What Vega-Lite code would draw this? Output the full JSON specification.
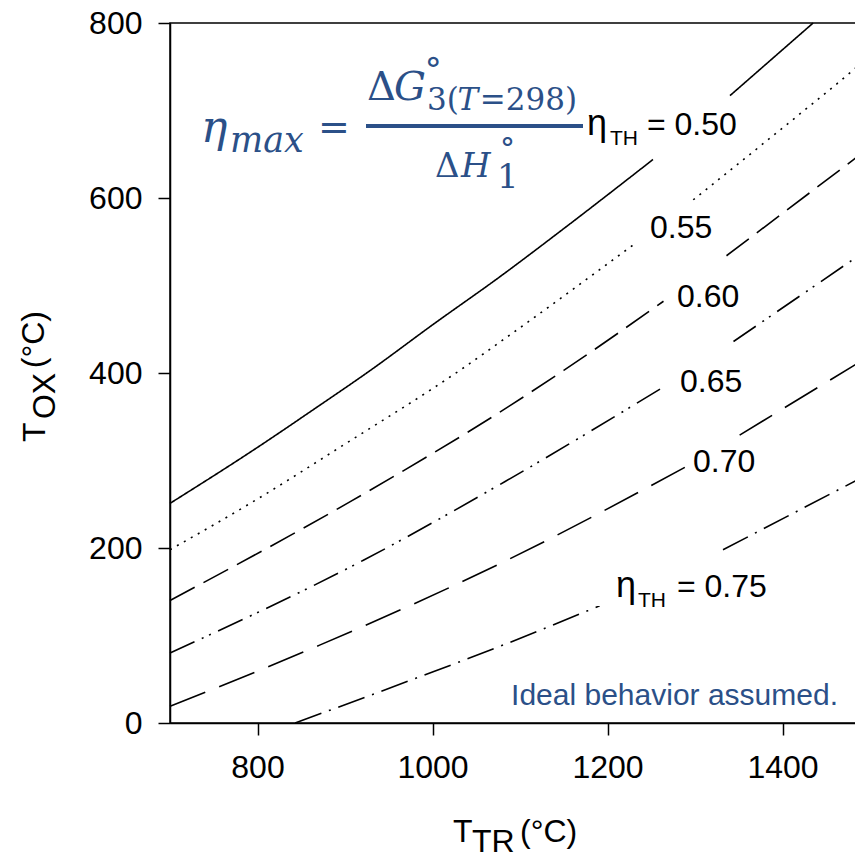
{
  "$schema": "https://vega.github.io/schema/vega-lite/v6.json",
  "width": 686,
  "height": 700,
  "autosize": {"type": "none"},
  "padding": {"left": 170, "top": 23, "right": 0, "bottom": 129},
  "background": "white",
  "config": {
    "view": {"stroke": "black", "strokeWidth": 1.5},
    "font": "Liberation Sans",
    "axis": {"title": null, "grid": false, "tickSize": 12, "labelFontSize": 32, "labelFlush": false, "domainColor": "black", "tickColor": "black", "labelColor": "black", "domainWidth": 1.5, "tickWidth": 1.5, "labelFont": "Liberation Sans", "format": "d"},
    "axisX": {"labelPadding": 17},
    "axisY": {"labelPadding": 16}
  },
  "layer": [
    {
      "data": {
        "values": [
          {"eta": "0.50", "seg": 1, "T_TR": 700, "T_OX": 251},
          {"eta": "0.50", "seg": 1, "T_TR": 800, "T_OX": 315},
          {"eta": "0.50", "seg": 1, "T_TR": 868, "T_OX": 361},
          {"eta": "0.50", "seg": 1, "T_TR": 929, "T_OX": 403},
          {"eta": "0.50", "seg": 1, "T_TR": 1000, "T_OX": 455},
          {"eta": "0.50", "seg": 1, "T_TR": 1077, "T_OX": 510},
          {"eta": "0.50", "seg": 1, "T_TR": 1150, "T_OX": 565},
          {"eta": "0.50", "seg": 1, "T_TR": 1252, "T_OX": 644},
          {"eta": "0.50", "seg": 2, "T_TR": 1340, "T_OX": 717},
          {"eta": "0.50", "seg": 2, "T_TR": 1435, "T_OX": 800},
          {"eta": "0.55", "seg": 1, "T_TR": 700, "T_OX": 198},
          {"eta": "0.55", "seg": 1, "T_TR": 800, "T_OX": 256},
          {"eta": "0.55", "seg": 1, "T_TR": 894, "T_OX": 315},
          {"eta": "0.55", "seg": 1, "T_TR": 1037, "T_OX": 407},
          {"eta": "0.55", "seg": 1, "T_TR": 1085, "T_OX": 441},
          {"eta": "0.55", "seg": 1, "T_TR": 1233, "T_OX": 549},
          {"eta": "0.55", "seg": 2, "T_TR": 1298, "T_OX": 598},
          {"eta": "0.55", "seg": 2, "T_TR": 1400, "T_OX": 680},
          {"eta": "0.55", "seg": 2, "T_TR": 1477, "T_OX": 743},
          {"eta": "0.55", "seg": 2, "T_TR": 1484, "T_OX": 749},
          {"eta": "0.60", "seg": 1, "T_TR": 700, "T_OX": 140},
          {"eta": "0.60", "seg": 1, "T_TR": 906, "T_OX": 253},
          {"eta": "0.60", "seg": 1, "T_TR": 1089, "T_OX": 363},
          {"eta": "0.60", "seg": 1, "T_TR": 1150, "T_OX": 403},
          {"eta": "0.60", "seg": 1, "T_TR": 1264, "T_OX": 482},
          {"eta": "0.60", "seg": 2, "T_TR": 1336, "T_OX": 534},
          {"eta": "0.60", "seg": 2, "T_TR": 1484, "T_OX": 646},
          {"eta": "0.65", "seg": 1, "T_TR": 700, "T_OX": 80},
          {"eta": "0.65", "seg": 1, "T_TR": 921, "T_OX": 186},
          {"eta": "0.65", "seg": 1, "T_TR": 1083, "T_OX": 276},
          {"eta": "0.65", "seg": 1, "T_TR": 1264, "T_OX": 384},
          {"eta": "0.65", "seg": 2, "T_TR": 1344, "T_OX": 436},
          {"eta": "0.65", "seg": 2, "T_TR": 1484, "T_OX": 532},
          {"eta": "0.70", "seg": 1, "T_TR": 700, "T_OX": 19},
          {"eta": "0.70", "seg": 1, "T_TR": 871, "T_OX": 89},
          {"eta": "0.70", "seg": 1, "T_TR": 1083, "T_OX": 185},
          {"eta": "0.70", "seg": 1, "T_TR": 1290, "T_OX": 293},
          {"eta": "0.70", "seg": 2, "T_TR": 1351, "T_OX": 329},
          {"eta": "0.70", "seg": 2, "T_TR": 1484, "T_OX": 410},
          {"eta": "0.75", "seg": 1, "T_TR": 843, "T_OX": 0},
          {"eta": "0.75", "seg": 1, "T_TR": 986, "T_OX": 53},
          {"eta": "0.75", "seg": 1, "T_TR": 1083, "T_OX": 90},
          {"eta": "0.75", "seg": 1, "T_TR": 1191, "T_OX": 134},
          {"eta": "0.75", "seg": 2, "T_TR": 1332, "T_OX": 198},
          {"eta": "0.75", "seg": 2, "T_TR": 1484, "T_OX": 277}
        ]
      },
      "mark": {"type": "line", "color": "black", "strokeWidth": 1.6, "interpolate": "monotone"},
      "encoding": {
        "x": {
          "field": "T_TR", "type": "quantitative",
          "scale": {"domain": [700, 1484], "nice": false, "zero": false},
          "axis": {"values": [800, 1000, 1200, 1400]}
        },
        "y": {
          "field": "T_OX", "type": "quantitative",
          "scale": {"domain": [0, 800], "nice": false, "zero": false},
          "axis": {"values": [0, 200, 400, 600, 800]}
        },
        "strokeDash": {
          "field": "eta", "type": "nominal", "legend": null,
          "scale": {"domain": ["0.50", "0.55", "0.60", "0.65", "0.70", "0.75"], "range": [[1, 0], [2, 6], [28, 10], [27, 8, 2, 6, 2, 8], [38, 15], [28, 8, 2, 8]]}
        },
        "detail": {"field": "seg", "type": "nominal"}
      }
    },
    {"data": {"values": [{}]}, "mark": {"type": "rule", "color": "#2b5088", "strokeWidth": 4}, "encoding": {"x": {"datum": 924}, "x2": {"datum": 1172}, "y": {"datum": 682.3}}},
    {"data": {"values": [{}]}, "mark": {"type": "text", "text": "η", "font": "DejaVu Serif", "fontStyle": "italic", "fontSize": 44, "color": "#2b5088", "align": "left", "baseline": "alphabetic"}, "encoding": {"x": {"datum": 735.4}, "y": {"datum": 664.0}}},
    {"data": {"values": [{}]}, "mark": {"type": "text", "text": "max", "font": "DejaVu Serif", "fontStyle": "italic", "fontSize": 35, "color": "#2b5088", "align": "left", "baseline": "alphabetic"}, "encoding": {"x": {"datum": 768.6}, "y": {"datum": 652.6}}},
    {"data": {"values": [{}]}, "mark": {"type": "text", "text": "=", "font": "DejaVu Serif", "fontSize": 38, "color": "#2b5088", "align": "left", "baseline": "alphabetic"}, "encoding": {"x": {"datum": 869.1}, "y": {"datum": 666.3}}},
    {"data": {"values": [{}]}, "mark": {"type": "text", "text": "Δ", "font": "DejaVu Serif", "fontSize": 40, "color": "#2b5088", "align": "left", "baseline": "alphabetic"}, "encoding": {"x": {"datum": 925.1}, "y": {"datum": 712.0}}},
    {"data": {"values": [{}]}, "mark": {"type": "text", "text": "G", "font": "DejaVu Serif", "fontStyle": "italic", "fontSize": 40, "color": "#2b5088", "align": "left", "baseline": "alphabetic"}, "encoding": {"x": {"datum": 956.0}, "y": {"datum": 712.0}}},
    {"data": {"values": [{}]}, "mark": {"type": "text", "text": "°", "font": "DejaVu Serif", "fontSize": 34, "color": "#2b5088", "align": "left", "baseline": "alphabetic"}, "encoding": {"x": {"datum": 991.0}, "y": {"datum": 732.6}}},
    {"data": {"values": [{}]}, "mark": {"type": "text", "text": "3(", "font": "DejaVu Serif", "fontSize": 31, "color": "#2b5088", "align": "left", "baseline": "alphabetic"}, "encoding": {"x": {"datum": 993.7}, "y": {"datum": 700.6}}},
    {"data": {"values": [{}]}, "mark": {"type": "text", "text": "T", "font": "DejaVu Serif", "fontStyle": "italic", "fontSize": 31, "color": "#2b5088", "align": "left", "baseline": "alphabetic"}, "encoding": {"x": {"datum": 1028.5}, "y": {"datum": 700.6}}},
    {"data": {"values": [{}]}, "mark": {"type": "text", "text": "=298)", "font": "DejaVu Serif", "fontSize": 31, "color": "#2b5088", "align": "left", "baseline": "alphabetic"}, "encoding": {"x": {"datum": 1054.0}, "y": {"datum": 700.6}}},
    {"data": {"values": [{}]}, "mark": {"type": "text", "text": "Δ", "font": "DejaVu Serif", "fontSize": 34, "color": "#2b5088", "align": "left", "baseline": "alphabetic"}, "encoding": {"x": {"datum": 1002.9}, "y": {"datum": 624.0}}},
    {"data": {"values": [{}]}, "mark": {"type": "text", "text": "H", "font": "DejaVu Serif", "fontStyle": "italic", "fontSize": 34, "color": "#2b5088", "align": "left", "baseline": "alphabetic"}, "encoding": {"x": {"datum": 1032.6}, "y": {"datum": 624.0}}},
    {"data": {"values": [{}]}, "mark": {"type": "text", "text": "°", "font": "DejaVu Serif", "fontSize": 30, "color": "#2b5088", "align": "left", "baseline": "alphabetic"}, "encoding": {"x": {"datum": 1077.1}, "y": {"datum": 644.6}}},
    {"data": {"values": [{}]}, "mark": {"type": "text", "text": "1", "font": "DejaVu Serif", "fontSize": 34, "color": "#2b5088", "align": "left", "baseline": "alphabetic"}, "encoding": {"x": {"datum": 1073.7}, "y": {"datum": 611.4}}},
    {"data": {"values": [{}]}, "mark": {"type": "text", "text": "η", "font": "Liberation Sans", "fontSize": 36, "color": "black", "align": "left", "baseline": "alphabetic"}, "encoding": {"x": {"datum": 1176.6}, "y": {"datum": 672.0}}},
    {"data": {"values": [{}]}, "mark": {"type": "text", "text": "TH", "font": "Liberation Sans", "fontSize": 21, "color": "black", "align": "left", "baseline": "alphabetic"}, "encoding": {"x": {"datum": 1202.9}, "y": {"datum": 660.6}}},
    {"data": {"values": [{}]}, "mark": {"type": "text", "text": "= 0.50", "font": "Liberation Sans", "fontSize": 32, "color": "black", "align": "left", "baseline": "alphabetic"}, "encoding": {"x": {"datum": 1245.1}, "y": {"datum": 672.0}}},
    {"data": {"values": [{}]}, "mark": {"type": "text", "text": "0.55", "font": "Liberation Sans", "fontSize": 32, "color": "black", "align": "left", "baseline": "alphabetic"}, "encoding": {"x": {"datum": 1248.6}, "y": {"datum": 554.3}}},
    {"data": {"values": [{}]}, "mark": {"type": "text", "text": "0.60", "font": "Liberation Sans", "fontSize": 32, "color": "black", "align": "left", "baseline": "alphabetic"}, "encoding": {"x": {"datum": 1279.4}, "y": {"datum": 475.4}}},
    {"data": {"values": [{}]}, "mark": {"type": "text", "text": "0.65", "font": "Liberation Sans", "fontSize": 32, "color": "black", "align": "left", "baseline": "alphabetic"}, "encoding": {"x": {"datum": 1282.9}, "y": {"datum": 378.3}}},
    {"data": {"values": [{}]}, "mark": {"type": "text", "text": "0.70", "font": "Liberation Sans", "fontSize": 32, "color": "black", "align": "left", "baseline": "alphabetic"}, "encoding": {"x": {"datum": 1297.7}, "y": {"datum": 286.9}}},
    {"data": {"values": [{}]}, "mark": {"type": "text", "text": "η", "font": "Liberation Sans", "fontSize": 36, "color": "black", "align": "left", "baseline": "alphabetic"}, "encoding": {"x": {"datum": 1209.7}, "y": {"datum": 144.0}}},
    {"data": {"values": [{}]}, "mark": {"type": "text", "text": "TH", "font": "Liberation Sans", "fontSize": 21, "color": "black", "align": "left", "baseline": "alphabetic"}, "encoding": {"x": {"datum": 1234.9}, "y": {"datum": 132.6}}},
    {"data": {"values": [{}]}, "mark": {"type": "text", "text": "= 0.75", "font": "Liberation Sans", "fontSize": 32, "color": "black", "align": "left", "baseline": "alphabetic"}, "encoding": {"x": {"datum": 1279.4}, "y": {"datum": 144.0}}},
    {"data": {"values": [{}]}, "mark": {"type": "text", "text": "Ideal behavior assumed.", "font": "Liberation Sans", "fontSize": 30, "color": "#2b5088", "align": "right", "baseline": "alphabetic"}, "encoding": {"x": {"datum": 1463.4}, "y": {"datum": 20.6}}},
    {"data": {"values": [{}]}, "mark": {"type": "text", "text": "T", "font": "Liberation Sans", "fontSize": 32, "color": "black", "align": "left", "baseline": "alphabetic"}, "encoding": {"x": {"datum": 1023.4}, "y": {"datum": -136.0}}},
    {"data": {"values": [{}]}, "mark": {"type": "text", "text": "TR", "font": "Liberation Sans", "fontSize": 32, "color": "black", "align": "left", "baseline": "alphabetic"}, "encoding": {"x": {"datum": 1045.1}, "y": {"datum": -147.4}}},
    {"data": {"values": [{}]}, "mark": {"type": "text", "text": "(°C)", "font": "Liberation Sans", "fontSize": 32, "color": "black", "align": "left", "baseline": "alphabetic"}, "encoding": {"x": {"datum": 1100.0}, "y": {"datum": -136.0}}},
    {"data": {"values": [{}]}, "mark": {"type": "text", "text": "T", "font": "Liberation Sans", "fontSize": 32, "color": "black", "align": "left", "baseline": "alphabetic", "angle": 270}, "encoding": {"x": {"datum": 557.1}, "y": {"datum": 321.1}}},
    {"data": {"values": [{}]}, "mark": {"type": "text", "text": "OX", "font": "Liberation Sans", "fontSize": 32, "color": "black", "align": "left", "baseline": "alphabetic", "angle": 270}, "encoding": {"x": {"datum": 568.6}, "y": {"datum": 347.4}}},
    {"data": {"values": [{}]}, "mark": {"type": "text", "text": "(°C)", "font": "Liberation Sans", "fontSize": 32, "color": "black", "align": "left", "baseline": "alphabetic", "angle": 270}, "encoding": {"x": {"datum": 556.0}, "y": {"datum": 405.5}}}
  ]
}
